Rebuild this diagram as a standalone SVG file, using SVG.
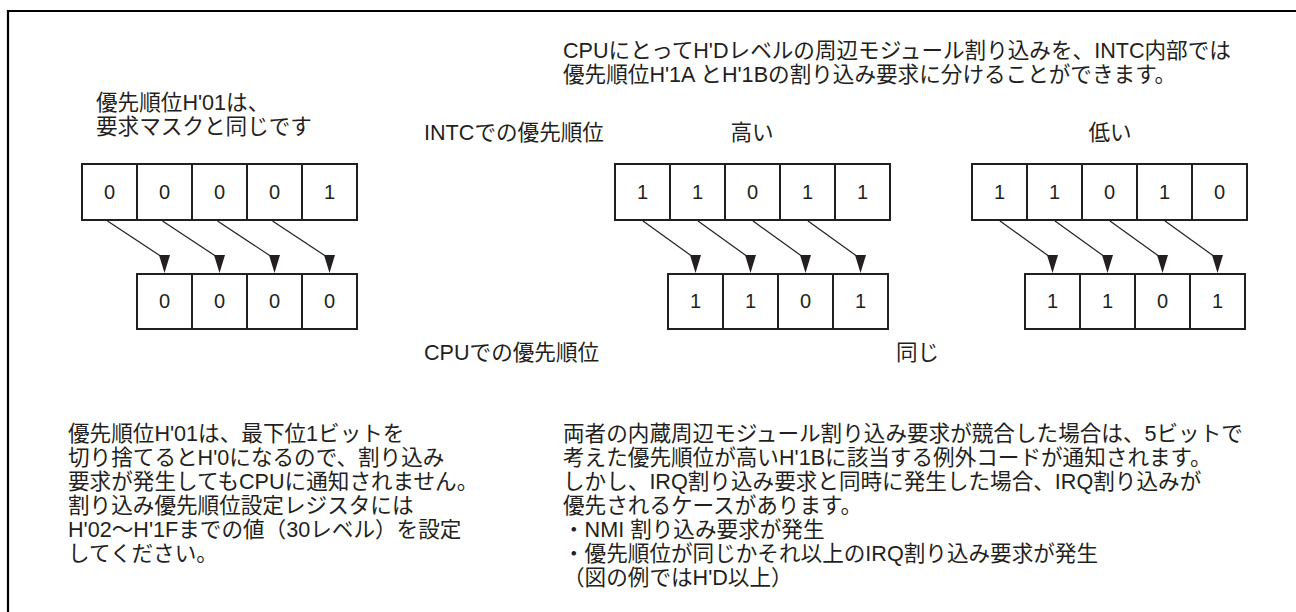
<svg xmlns="http://www.w3.org/2000/svg" xmlns:xlink="http://www.w3.org/1999/xlink" width="1296" height="612" viewBox="0 0 1296 612">
<style>
text{font-family:"Liberation Sans","Noto Sans CJK JP",sans-serif;fill:#231f20}
.t{font-size:21.6px}
.d{font-size:20px;text-anchor:middle}
.cell{fill:#fff;stroke:#231f20;stroke-width:2}
.conn line{stroke:#231f20;stroke-width:1.2}
.ah{fill:#231f20}
</style>
<defs>
<path id="ah" class="ah" d="M-5.5,-18 L5.5,-18 L0,0 Z"/>
</defs>
<rect width="1296" height="612" fill="#fff"/>
<path d="M8,612 L8,11 L1296,11" fill="none" stroke="#000" stroke-width="2.2"/>

<g id="note-top">
<text class="t" x="563" y="58">CPUにとってH'Dレベルの周辺モジュール割り込みを、INTC内部では</text>
<text class="t" x="563" y="82">優先順位H'1A とH'1Bの割り込み要求に分けることができます。</text>
</g>
<g id="note-left">
<text class="t" x="96" y="110">優先順位H'01は、</text>
<text class="t" x="96" y="134">要求マスクと同じです</text>
</g>
<g id="label-intc"><text class="t" x="424" y="140">INTCでの優先順位</text></g>
<g id="label-high"><text class="t" x="752" y="140" text-anchor="middle">高い</text></g>
<g id="label-low"><text class="t" x="1110" y="140" text-anchor="middle">低い</text></g>
<g id="label-cpu"><text class="t" x="424" y="360">CPUでの優先順位</text></g>
<g id="label-same"><text class="t" x="896" y="360">同じ</text></g>

<g id="reg-left-top">
<rect class="cell" x="82" y="164" width="55" height="56"/><rect class="cell" x="137" y="164" width="55" height="56"/><rect class="cell" x="192" y="164" width="55" height="56"/><rect class="cell" x="247" y="164" width="55" height="56"/><rect class="cell" x="302" y="164" width="55" height="56"/>
<text class="d" x="109.5" y="199">0</text><text class="d" x="164.5" y="199">0</text><text class="d" x="219.5" y="199">0</text><text class="d" x="274.5" y="199">0</text><text class="d" x="329.5" y="199">1</text>
</g>
<g id="reg-left-bottom">
<rect class="cell" x="137" y="274" width="55" height="55"/><rect class="cell" x="192" y="274" width="55" height="55"/><rect class="cell" x="247" y="274" width="55" height="55"/><rect class="cell" x="302" y="274" width="55" height="55"/>
<text class="d" x="164.5" y="308">0</text><text class="d" x="219.5" y="308">0</text><text class="d" x="274.5" y="308">0</text><text class="d" x="329.5" y="308">0</text>
</g>

<g id="reg-mid-top">
<rect class="cell" x="615" y="164" width="55" height="56"/><rect class="cell" x="670" y="164" width="55" height="56"/><rect class="cell" x="725" y="164" width="55" height="56"/><rect class="cell" x="780" y="164" width="55" height="56"/><rect class="cell" x="835" y="164" width="55" height="56"/>
<text class="d" x="642.5" y="199">1</text><text class="d" x="697.5" y="199">1</text><text class="d" x="752.5" y="199">0</text><text class="d" x="807.5" y="199">1</text><text class="d" x="862.5" y="199">1</text>
</g>
<g id="reg-mid-bottom">
<rect class="cell" x="668" y="274" width="55" height="55"/><rect class="cell" x="723" y="274" width="55" height="55"/><rect class="cell" x="778" y="274" width="55" height="55"/><rect class="cell" x="833" y="274" width="55" height="55"/>
<text class="d" x="695.5" y="308">1</text><text class="d" x="750.5" y="308">1</text><text class="d" x="805.5" y="308">0</text><text class="d" x="860.5" y="308">1</text>
</g>

<g id="reg-right-top">
<rect class="cell" x="972" y="164" width="55" height="56"/><rect class="cell" x="1027" y="164" width="55" height="56"/><rect class="cell" x="1082" y="164" width="55" height="56"/><rect class="cell" x="1137" y="164" width="55" height="56"/><rect class="cell" x="1192" y="164" width="55" height="56"/>
<text class="d" x="999.5" y="199">1</text><text class="d" x="1054.5" y="199">1</text><text class="d" x="1109.5" y="199">0</text><text class="d" x="1164.5" y="199">1</text><text class="d" x="1219.5" y="199">0</text>
</g>
<g id="reg-right-bottom">
<rect class="cell" x="1025" y="274" width="55" height="55"/><rect class="cell" x="1080" y="274" width="55" height="55"/><rect class="cell" x="1135" y="274" width="55" height="55"/><rect class="cell" x="1190" y="274" width="55" height="55"/>
<text class="d" x="1052.5" y="308">1</text><text class="d" x="1107.5" y="308">1</text><text class="d" x="1162.5" y="308">0</text><text class="d" x="1217.5" y="308">1</text>
</g>

<g id="connectors" class="conn">
<line x1="107.5" y1="221" x2="162" y2="257"/><line x1="162.5" y1="221" x2="217" y2="257"/><line x1="217.5" y1="221" x2="272" y2="257"/><line x1="272.5" y1="221" x2="327" y2="257"/>
<use xlink:href="#ah" x="164.5" y="273"/><use xlink:href="#ah" x="219.5" y="273"/><use xlink:href="#ah" x="274.5" y="273"/><use xlink:href="#ah" x="329.5" y="273"/>
<line x1="643" y1="221" x2="693" y2="257"/><line x1="698" y1="221" x2="748" y2="257"/><line x1="753" y1="221" x2="803" y2="257"/><line x1="808" y1="221" x2="858" y2="257"/>
<use xlink:href="#ah" x="695.5" y="273"/><use xlink:href="#ah" x="750.5" y="273"/><use xlink:href="#ah" x="805.5" y="273"/><use xlink:href="#ah" x="860.5" y="273"/>
<line x1="1000" y1="221" x2="1050" y2="257"/><line x1="1055" y1="221" x2="1105" y2="257"/><line x1="1110" y1="221" x2="1160" y2="257"/><line x1="1165" y1="221" x2="1215" y2="257"/>
<use xlink:href="#ah" x="1052.5" y="273"/><use xlink:href="#ah" x="1107.5" y="273"/><use xlink:href="#ah" x="1162.5" y="273"/><use xlink:href="#ah" x="1217.5" y="273"/>
</g>

<g id="note-bottom-left">
<text class="t" x="68" y="441">優先順位H'01は、最下位1ビットを</text>
<text class="t" x="68" y="465">切り捨てるとH'0になるので、割り込み</text>
<text class="t" x="68" y="489">要求が発生してもCPUに通知されません。</text>
<text class="t" x="68" y="513">割り込み優先順位設定レジスタには</text>
<text class="t" x="68" y="537">H'02〜H'1Fまでの値（30レベル）を設定</text>
<text class="t" x="68" y="561">してください。</text>
</g>
<g id="note-bottom-right">
<text class="t" x="563" y="441">両者の内蔵周辺モジュール割り込み要求が競合した場合は、5ビットで</text>
<text class="t" x="563" y="465">考えた優先順位が高いH'1Bに該当する例外コードが通知されます。</text>
<text class="t" x="563" y="489">しかし、IRQ割り込み要求と同時に発生した場合、IRQ割り込みが</text>
<text class="t" x="563" y="513">優先されるケースがあります。</text>
<text class="t" x="563" y="537">・NMI 割り込み要求が発生</text>
<text class="t" x="563" y="561">・優先順位が同じかそれ以上のIRQ割り込み要求が発生</text>
<text class="t" x="563" y="585">（図の例ではH'D以上）</text>
</g>
</svg>
